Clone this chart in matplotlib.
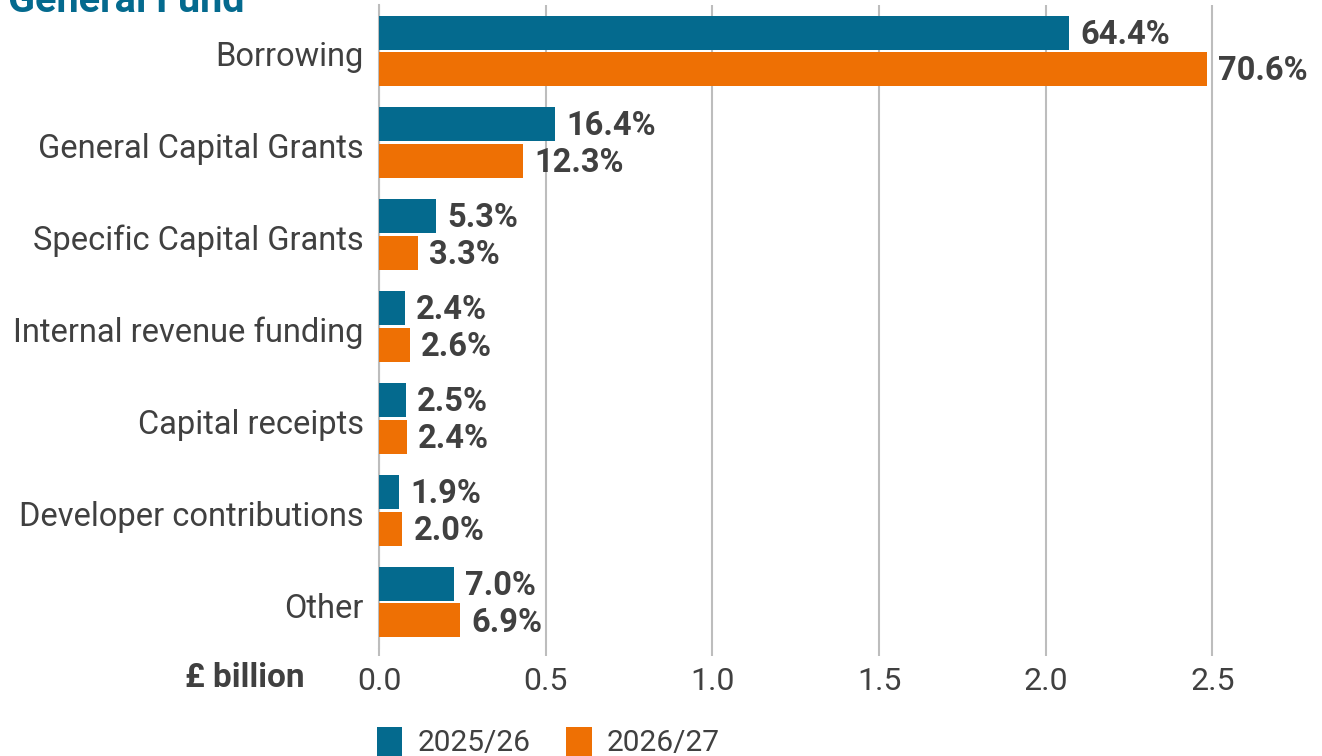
import matplotlib.pyplot as plt
import numpy as np

plt.rcParams['font.family'] = ['Roboto', 'DejaVu Sans']

# Capital financing sources, General Fund
categories = ['Borrowing', 'General Capital Grants', 'Specific Capital Grants',
              'Internal revenue funding', 'Capital receipts',
              'Developer contributions', 'Other']
years = ['2025/26', '2026/27']
share_2025 = [64.4, 16.4, 5.3, 2.4, 2.5, 1.9, 7.0]
share_2026 = [70.6, 12.3, 3.3, 2.6, 2.4, 2.0, 6.9]
total_2025 = 3.216  # £ billion
total_2026 = 3.52

xticks = [0.0, 0.5, 1.0, 1.5, 2.0, 2.5]

blue = '#046a8e'
orange = '#ee7004'
text_col = '#404040'
grid_col = '#bdbdbd'

vals_2025 = np.array(share_2025) / 100 * total_2025
vals_2026 = np.array(share_2026) / 100 * total_2026

fig = plt.figure(figsize=(13.22, 7.56), dpi=100)
ax = fig.add_axes([379 / 1322, 1 - 648 / 756, 900 / 1322, 643 / 756])

y = np.arange(len(categories))
h = 0.37
gap = 0.015
b1 = ax.barh(y - h / 2 - gap, vals_2025, height=h, color=blue, label=years[0], zorder=3)
b2 = ax.barh(y + h / 2 + gap, vals_2026, height=h, color=orange, label=years[1], zorder=3)

for bars, shares in [(b1, share_2025), (b2, share_2026)]:
    for bar, s in zip(bars, shares):
        ax.annotate(f'{s:.1f}%', (bar.get_width(), bar.get_y() + bar.get_height() / 2),
                    xytext=(8, -1.5), textcoords='offset points', va='center', ha='left',
                    fontsize=23.5, fontweight='bold', color=text_col)

ax.set_ylim(len(categories) - 0.5, -0.5)
ax.set_xlim(0, 2.7)
ax.set_yticks(y)
ax.set_yticklabels(categories, va='center_baseline')
ax.set_xticks(xticks)
ax.set_xticklabels([f'{t:.1f}' for t in xticks])
ax.tick_params(axis='y', length=0, pad=11, labelsize=23.5, labelcolor=text_col)
ax.tick_params(axis='x', length=6, width=1.5, color=grid_col, pad=8,
               labelsize=23, labelcolor=text_col)
ax.grid(axis='x', color=grid_col, linewidth=1.5, zorder=0)
for side in ['top', 'right', 'bottom']:
    ax.spines[side].set_visible(False)
ax.spines['left'].set_color(grid_col)
ax.spines['left'].set_linewidth(1.5)

# shift category labels down a touch so they sit level with the bar pair
for lbl in ax.get_yticklabels():
    lbl.set_y(lbl.get_position()[1])
    lbl.set_transform(lbl.get_transform() + plt.matplotlib.transforms.ScaledTranslation(0, -3 / 100, fig.dpi_scale_trans))

fig.text(305 / 1322, 1 - 678 / 756, '£ billion', ha='right', va='center',
         fontsize=24, fontweight='bold', color=text_col)
fig.text(8 / 1322, 1 - 12 / 756, 'General Fund', ha='left', va='baseline',
         fontsize=28.5, fontweight='bold', color=blue)

fig.legend(handles=[b1, b2], loc='upper left', bbox_to_anchor=(377 / 1322, 1 - 727 / 756),
           ncol=2, frameon=False, fontsize=21.5, labelcolor=text_col,
           handlelength=0.85, handleheight=1.1, handletextpad=0.5,
           columnspacing=1.2, borderpad=0, borderaxespad=0)

fig.savefig('out.png', dpi=100)
